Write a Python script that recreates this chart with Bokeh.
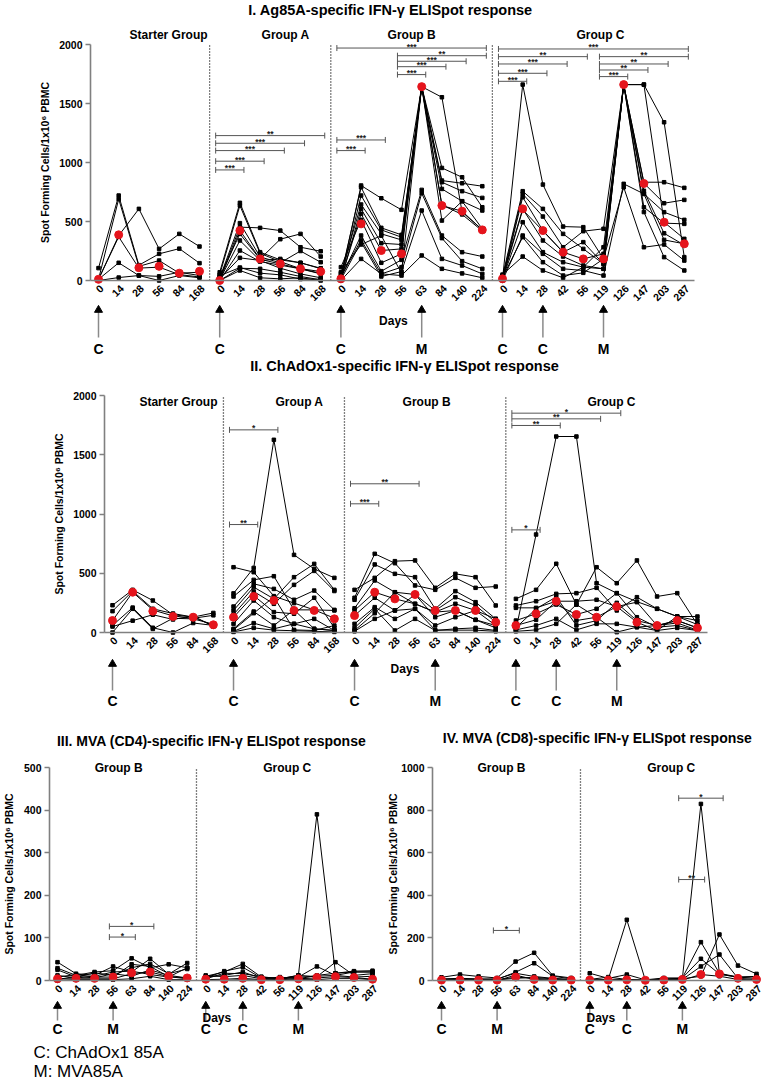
import math
from bokeh.plotting import figure
from bokeh.layouts import column, row
from bokeh.models import Range1d, FixedTicker
from bokeh.core.properties import value
from bokeh.embed import file_html
from bokeh.resources import INLINE

FONT = "Liberation Sans"
RED = "#e5141c"
GREY = "#808080"
BRK = "#555555"

# ---------------- categories ----------------
DAYS_START = ["0", "14", "28", "56", "84", "168"]
DAYS_A = ["0", "14", "28", "56", "84", "168"]
DAYS_B = ["0", "14", "28", "56", "63", "84", "140", "224"]
DAYS_C = ["0", "14", "28", "42", "56", "119", "126", "147", "203", "287"]

# ---------------- I. Ag85A ----------------
AG_START = [
    [10, 380, 607, 268, 395, 288],
    [105, 720, 130, 226, 270, 147],
    [10, 690, 120, 169, 62, 70],
    [10, 150, 42, 0, 42, 23],
    [0, 25, 42, 35, 70, 42],
    [10, 370, 105, 113, 50, 30],
]
AG_START_MED = [10, 387, 108, 120, 62, 78]
AG_A = [
    [70, 658, 240, 175, 150, 100],
    [50, 635, 230, 160, 100, 60],
    [20, 486, 200, 150, 250, 155],
    [10, 452, 446, 423, 282, 248],
    [0, 423, 183, 350, 395, 203],
    [30, 395, 180, 140, 100, 76],
    [5, 339, 169, 183, 150, 104],
    [0, 254, 160, 130, 99, 56],
    [15, 192, 170, 104, 56, 23],
    [0, 104, 99, 70, 34, 6],
    [0, 85, 23, 14, 23, 0],
    [40, 110, 62, 48, 12, 10],
]
AG_A_MED = [0, 423, 183, 141, 99, 76]
AG_B = [
    [20, 805, 697, 599, 1643, 1553, 580, 430],
    [40, 790, 446, 387, 1643, 954, 875, 621],
    [10, 720, 429, 367, 1643, 847, 824, 799],
    [60, 644, 395, 344, 1643, 833, 757, 700],
    [5, 607, 316, 305, 1643, 776, 672, 593],
    [15, 565, 254, 268, 1643, 508, 672, 438],
    [113, 514, 150, 226, 1643, 635, 587, 429],
    [25, 381, 79, 175, 768, 381, 240, 203],
    [30, 344, 56, 113, 740, 359, 164, 99],
    [8, 325, 34, 76, 593, 183, 127, 56],
    [0, 183, 56, 42, 212, 99, 60, 23],
    [70, 305, 380, 62, 1643, 640, 560, 420],
]
AG_B_MED = [14, 480, 254, 226, 1643, 635, 587, 429]
AG_C = [
    [10, 1660, 813, 457, 452, 183, 1660, 1660, 1341, 198],
    [40, 757, 607, 395, 268, 141, 1660, 1660, 494, 353],
    [20, 734, 542, 282, 418, 438, 1660, 833, 833, 785],
    [5, 706, 423, 240, 183, 226, 1660, 824, 655, 683],
    [30, 607, 339, 203, 127, 99, 1660, 734, 579, 514],
    [15, 494, 240, 155, 113, 99, 1660, 621, 486, 480],
    [0, 381, 226, 99, 85, 42, 819, 734, 344, 311],
    [25, 367, 155, 42, 65, 183, 790, 282, 305, 169],
    [50, 203, 85, 23, 113, 282, 1660, 580, 198, 85],
    [10, 600, 420, 240, 325, 141, 1660, 760, 400, 300],
]
AG_C_MED = [14, 607, 423, 240, 183, 183, 1660, 822, 494, 311]
AG_BRACKETS = [
    ("A", "0", "14", 937, "***"), ("A", "0", "28", 1011, "***"), ("A", "0", "56", 1101, "***"),
    ("A", "0", "84", 1163, "***"), ("A", "0", "168", 1228, "**"),
    ("B", "0", "14", 1101, "***"), ("B", "0", "28", 1191, "***"), ("B", "0", "224", 1970, "***"),
    ("B", "56", "224", 1905, "**"), ("B", "56", "140", 1858, "***"), ("B", "56", "84", 1812, "***"),
    ("B", "56", "63", 1745, "***"),
    ("C", "0", "14", 1688, "***"), ("C", "0", "28", 1756, "***"), ("C", "0", "42", 1835, "***"),
    ("C", "0", "56", 1897, "**"), ("C", "0", "287", 1962, "***"), ("C", "119", "126", 1728, "***"),
    ("C", "119", "147", 1784, "**"), ("C", "119", "203", 1835, "**"), ("C", "119", "287", 1897, "**"),
]
AG_ARROWS = [("S", "0", "C"), ("A", "0", "C"), ("B", "0", "C"), ("B", "63", "M"),
             ("C", "0", "C"), ("C", "28", "C"), ("C", "119", "M")]

# ---------------- II. ChAdOx1 ----------------
CH_START = [
    [230, 360, 270, 150, 130, 60],
    [180, 350, 200, 160, 130, 165],
    [100, 340, 190, 140, 120, 145],
    [60, 210, 40, 0, 80, 60],
    [0, 200, 30, 120, 115, 70],
    [50, 100, 150, 110, 140, 50],
]
CH_START_MED = [101, 340, 180, 135, 129, 65]
CH_A = [
    [330, 545, 1626, 655, 537, 461],
    [551, 509, 307, 248, 191, 186],
    [304, 444, 475, 191, 31, 17],
    [219, 411, 368, 276, 354, 191],
    [186, 383, 284, 467, 579, 360],
    [152, 346, 242, 402, 520, 350],
    [129, 312, 172, 158, 293, 39],
    [73, 270, 129, 73, 115, 17],
    [31, 177, 59, 191, 191, 121],
    [22, 163, 300, 22, 17, 59],
    [10, 79, 31, 73, 31, 17],
    [5, 39, 20, 15, 10, 5],
]
CH_A_MED = [129, 304, 270, 186, 186, 115]
CH_B = [
    [360, 461, 602, 608, 377, 495, 467, 228],
    [293, 664, 585, 397, 360, 461, 377, 388],
    [276, 574, 495, 467, 200, 349, 256, 115],
    [205, 439, 340, 321, 186, 298, 228, 87],
    [186, 340, 284, 242, 172, 242, 186, 59],
    [143, 293, 186, 321, 129, 186, 107, 39],
    [73, 214, 115, 200, 59, 129, 186, 115],
    [39, 200, 17, 115, 17, 31, 39, 17],
    [17, 163, 340, 242, 172, 186, 107, 59],
    [10, 115, 186, 200, 20, 20, 20, 10],
]
CH_B_MED = [143, 340, 284, 321, 186, 186, 186, 87]
CH_C = [
    [22, 827, 1654, 1654, 416, 332, 260, 200, 135, 67],
    [284, 360, 580, 236, 551, 416, 608, 304, 332, 67],
    [228, 264, 326, 332, 377, 186, 298, 200, 135, 101],
    [208, 208, 264, 264, 276, 219, 256, 59, 101, 39],
    [101, 158, 236, 152, 200, 332, 129, 45, 59, 17],
    [59, 107, 264, 101, 129, 219, 87, 17, 39, 17],
    [22, 59, 115, 22, 73, 73, 45, 59, 101, 39],
    [10, 22, 73, 236, 129, 3, 45, 17, 135, 135],
    [40, 200, 300, 60, 100, 250, 100, 60, 80, 20],
]
CH_C_MED = [59, 158, 264, 152, 129, 219, 87, 59, 101, 39]
CH_BRACKETS = [
    ("A", "0", "28", 1710, "*"), ("A", "0", "14", 911, "**"),
    ("B", "0", "56", 1255, "**"), ("B", "0", "14", 1086, "***"),
    ("C", "0", "119", 1851, "*"), ("C", "0", "56", 1803, "**"), ("C", "0", "28", 1747, "**"),
    ("C", "0", "14", 866, "*"),
]
CH_ARROWS = AG_ARROWS

# ---------------- III. MVA (CD4) ----------------
CD4_B = [
    [43, 16, 12, 33, 20, 51, 15, 41],
    [29, 12, 20, 23, 52, 30, 38, 30],
    [25, 8, 18, 12, 30, 39, 16, 27],
    [8, 14, 8, 8, 38, 33, 9, 6],
    [4, 4, 4, 4, 16, 20, 9, 4],
    [2, 10, 6, 16, 10, 25, 12, 6],
    [0, 2, 2, 2, 4, 10, 2, 2],
    [12, 6, 10, 20, 22, 14, 8, 30],
]
CD4_B_MED = [4, 5, 5, 8, 18, 20, 10, 6]
CD4_C = [
    [10, 20, 39, 8, 4, 12, 390, 17, 22, 23],
    [6, 22, 31, 6, 6, 8, 33, 12, 20, 20],
    [4, 17, 16, 9, 4, 12, 9, 43, 12, 16],
    [12, 9, 12, 4, 8, 4, 12, 17, 20, 20],
    [2, 3, 5, 2, 2, 4, 6, 9, 7, 3],
    [0, 0, 2, 0, 0, 2, 2, 5, 5, 2],
    [8, 12, 20, 5, 3, 8, 10, 12, 8, 10],
]
CD4_C_MED = [3, 3, 5, 2, 2, 4, 7, 9, 7, 3]
CD4_BRACKETS = [("B", "56", "63", 102, "*"), ("B", "56", "84", 127, "*")]

# ---------------- IV. MVA (CD8) ----------------
CD8_B = [
    [15, 28, 19, 12, 89, 130, 23, 12],
    [8, 10, 8, 5, 39, 81, 20, 8],
    [5, 5, 5, 8, 34, 19, 10, 5],
    [2, 2, 2, 2, 16, 10, 5, 2],
    [0, 0, 0, 0, 25, 5, 2, 0],
    [3, 3, 3, 3, 10, 15, 8, 3],
]
CD8_B_MED = [2, 2, 2, 2, 16, 5, 2, 2]
CD8_C = [
    [2, 5, 285, 2, 5, 10, 829, 30, 16, 10],
    [34, 10, 28, 3, 12, 12, 180, 34, 16, 19],
    [5, 16, 5, 1, 8, 8, 20, 216, 70, 31],
    [2, 2, 3, 0, 2, 5, 66, 122, 10, 5],
    [0, 0, 0, 0, 0, 2, 28, 20, 5, 2],
    [3, 3, 5, 2, 3, 12, 102, 30, 15, 19],
]
CD8_C_MED = [2, 2, 3, 1, 2, 5, 28, 31, 10, 5]
CD8_BRACKETS = [("B", "56", "63", 235, "*"), ("C", "119", "126", 474, "**"), ("C", "119", "147", 856, "*")]
CD_ARROWS = [("B", "0", "C"), ("B", "56", "M"), ("C", "0", "C"), ("C", "28", "C"), ("C", "119", "M")]

YLABEL = "Spot Forming Cells/1x10\u2076 PBMC"


def make_panel(cfg):
    W, H = cfg["size"]
    fx, s = cfg["first_px"], cfg["step_px"]
    py0, ptop, ymax = cfg["zero_py"], cfg["top_py"], cfg["ymax"]
    pxu = (py0 - ptop) / ymax

    def X(px):
        return (px - fx) / s

    def Y(py):
        return (py0 - py) / pxu

    p = figure(width=W, height=H, x_range=Range1d(X(0), X(W)), y_range=Range1d(Y(H), Y(0)),
               output_backend="svg", toolbar_location=None, min_border=0)
    p.min_border_left = p.min_border_right = p.min_border_top = p.min_border_bottom = 0
    p.outline_line_color = None
    p.xgrid.visible = False
    p.ygrid.visible = False

    groups = cfg["groups"]
    offsets = {}
    ticks, overrides = [], {}
    off = 0
    for key, name, days, lines, med in groups:
        offsets[key] = (off, days)
        for i, d in enumerate(days):
            ticks.append(off + i)
            overrides[off + i] = d
        off += len(days)

    def xpos(key, day):
        o, days = offsets[key]
        return o + days.index(day)

    xa = p.xaxis[0]
    xa.fixed_location = 0
    xa.ticker = FixedTicker(ticks=ticks)
    xa.major_label_overrides = overrides
    xa.bounds = (X(cfg["axis_px"]), X(cfg["axis_end_px"]))
    xa.axis_line_color = GREY
    xa.axis_line_width = 1.6
    xa.major_tick_line_color = None
    xa.minor_tick_line_color = None
    xa.major_label_text_color = None

    ya = p.yaxis[0]
    ya.fixed_location = X(cfg["axis_px"])
    ya.ticker = FixedTicker(ticks=list(range(0, ymax + 1, cfg["ystep"])))
    ya.bounds = (0, ymax)
    ya.axis_line_color = GREY
    ya.axis_line_width = 1.6
    ya.major_tick_line_color = GREY
    ya.major_tick_line_width = 1.4
    ya.major_tick_out = 5
    ya.major_tick_in = 0
    ya.minor_tick_line_color = None
    ya.major_label_text_font = FONT
    ya.major_label_text_font_style = "bold"
    ya.major_label_text_font_size = "10.5px"
    ya.major_label_text_color = "black"
    ya.major_label_standoff = 3

    def txt(x, y, t, size, bold=True, align="center", baseline="middle", angle=0.0,
            color="black"):
        p.text(x=[x], y=[y], text=[t], text_font=value(FONT), text_font_size=value(size),
               text_font_style="bold" if bold else "normal", text_align=align,
               text_baseline=baseline, angle=angle, text_color=color)

    # day tick labels, rotated 45 degrees, ending just below each tick of the x axis
    p.text(x=[t + 3.0 / s for t in ticks], y=[Y(py0 + 6)] * len(ticks),
           text=[overrides[t] for t in ticks], angle=math.pi / 4,
           text_font=value(FONT), text_font_size=value("10.5px"), text_font_style="bold",
           text_align="right", text_baseline="middle", text_color="black")

    # dotted group dividers
    bx = [offsets[g[0]][0] - 0.5 for g in groups[1:]]
    p.segment(x0=bx, y0=[0] * len(bx), x1=bx, y1=[ymax] * len(bx),
              line_color="black", line_width=1.3, line_dash="1 2")

    # individual subjects
    for key, name, days, lines, med in groups:
        o = offsets[key][0]
        xs = [o + i for i in range(len(days))]
        p.multi_line(xs=[xs] * len(lines), ys=lines, line_color="black", line_width=1)
        p.scatter([x for _ in lines for x in xs], [v for l in lines for v in l],
                  marker="square", size=3.5, color="black")
    # medians
    for key, name, days, lines, med in groups:
        o = offsets[key][0]
        xs = [o + i for i in range(len(days))]
        p.scatter(xs, med, marker="circle", size=8, color=RED)

    # group labels
    for (key, name, days, lines, med), gx in zip(groups, cfg["group_label_x"]):
        txt(gx, Y(cfg["group_label_py"]), name, "12px")

    # title and y label
    txt(X(cfg["title_pos"][0]), Y(cfg["title_pos"][1]), cfg["title"], cfg["title_size"])
    txt(X(cfg["ylabel_px"]), ymax / 2, YLABEL, "10.5px", angle=math.pi / 2)

    # significance brackets
    x0s, x1s, ys, mids, labs = [], [], [], [], []
    for key, d0, d1, v, stars in cfg["brackets"]:
        a = xpos(key, d0) - 0.2
        b = xpos(key, d1) + 0.2
        x0s.append(a); x1s.append(b); ys.append(v); mids.append((a + b) / 2); labs.append(stars)
    if x0s:
        p.segment(x0=x0s, y0=ys, x1=x1s, y1=ys, line_color=BRK, line_width=1)
        p.scatter(x0s + x1s, ys + ys, marker="dash", angle=math.pi / 2, size=6,
                  line_color=BRK, line_width=1)
        p.text(x=mids, y=[v + 1.5 / pxu for v in ys], text=labs, text_font=value(FONT),
               text_font_size=value("8.5px"), text_font_style="bold", text_align="center",
               text_baseline="alphabetic", text_color="#222222")

    # vaccination arrows
    axs = [xpos(k, d) for k, d, lab in cfg["arrows"]]
    alabs = [lab for k, d, lab in cfg["arrows"]]
    tip, base = cfg["arrow_tip_py"], cfg["arrow_base_py"]
    p.segment(x0=axs, y0=[Y(tip + 5)] * len(axs), x1=axs, y1=[Y(base)] * len(axs),
              line_color="#8a8a8a", line_width=1.5)
    p.scatter(axs, [Y(tip + 3.5)] * len(axs), marker="triangle", size=8, color="black")
    p.text(x=axs, y=[Y(cfg["arrow_label_py"])] * len(axs), text=alabs, text_font=value(FONT),
           text_font_size=value(cfg.get("arrow_font", "14px")), text_font_style="bold",
           text_align="center", text_baseline="middle", text_color="black")
    txt(cfg["days_pos"][0], Y(cfg["days_pos"][1]), "Days", "12px")

    for (lx, ly, t) in cfg.get("legend", []):
        txt(X(lx), Y(ly), t, "17px", bold=False, align="left")
    return p


P1 = make_panel(dict(
    size=(767, 356), first_px=98, step_px=20.2, axis_px=90, axis_end_px=694,
    zero_py=280, top_py=44, ymax=2000, ystep=500,
    groups=[("S", "Starter Group", DAYS_START, AG_START, AG_START_MED),
            ("A", "Group A", DAYS_A, AG_A, AG_A_MED),
            ("B", "Group B", DAYS_B, AG_B, AG_B_MED),
            ("C", "Group C", DAYS_C, AG_C, AG_C_MED)],
    group_label_x=[3.47, 9.26, 15.5, 24.85], group_label_py=34,
    title="I. Ag85A-specific IFN-\u03b3  ELISpot response", title_pos=(392, 9), title_size="14.5px",
    ylabel_px=44, brackets=AG_BRACKETS, arrows=AG_ARROWS,
    arrow_tip_py=306, arrow_base_py=337, arrow_label_py=348, arrow_font="14px",
    days_pos=(14.6, 320)))

P2 = make_panel(dict(
    size=(767, 356), first_px=112, step_px=20.17, axis_px=104, axis_end_px=707,
    zero_py=276, top_py=39, ymax=2000, ystep=500,
    groups=[("S", "Starter Group", DAYS_START, CH_START, CH_START_MED),
            ("A", "Group A", DAYS_A, CH_A, CH_A_MED),
            ("B", "Group B", DAYS_B, CH_B, CH_B_MED),
            ("C", "Group C", DAYS_C, CH_C, CH_C_MED)],
    group_label_x=[3.27, 9.27, 15.57, 24.74], group_label_py=45,
    title="II. ChAdOx1-specific IFN-\u03b3  ELISpot response", title_pos=(406, 9), title_size="14.5px",
    ylabel_px=58, brackets=CH_BRACKETS, arrows=CH_ARROWS,
    arrow_tip_py=304, arrow_base_py=334, arrow_label_py=344, days_pos=(14.5, 312)))

P3 = make_panel(dict(
    size=(384, 368), first_px=57, step_px=18.53, axis_px=49, axis_end_px=375,
    zero_py=268, top_py=55, ymax=500, ystep=100,
    groups=[("B", "Group B", DAYS_B, CD4_B, CD4_B_MED),
            ("C", "Group C", DAYS_C, CD4_C, CD4_C_MED)],
    group_label_x=[3.3, 12.4], group_label_py=55,
    title="III. MVA (CD4)-specific IFN-\u03b3  ELISpot response", title_pos=(213, 28), title_size="14px",
    ylabel_px=8, brackets=CD4_BRACKETS, arrows=CD_ARROWS,
    arrow_tip_py=290, arrow_base_py=308, arrow_label_py=316, days_pos=(8.6, 305),
    legend=[(33, 340, "C: ChAdOx1 85A"), (33, 359, "M: MVA85A")]))

P4 = make_panel(dict(
    size=(383, 368), first_px=57, step_px=18.53, axis_px=48, axis_end_px=375,
    zero_py=268, top_py=55, ymax=1000, ystep=200,
    groups=[("B", "Group B", DAYS_B, CD8_B, CD8_B_MED),
            ("C", "Group C", DAYS_C, CD8_C, CD8_C_MED)],
    group_label_x=[3.24, 12.4], group_label_py=55,
    title="IV. MVA (CD8)-specific IFN-\u03b3  ELISpot response", title_pos=(215, 25), title_size="14px",
    ylabel_px=8, brackets=CD8_BRACKETS, arrows=CD_ARROWS,
    arrow_tip_py=290, arrow_base_py=308, arrow_label_py=316, days_pos=(8.6, 305)))

layout = column(P1, P2, row(P3, P4))
open("out.html", "w").write(file_html(layout, INLINE))
